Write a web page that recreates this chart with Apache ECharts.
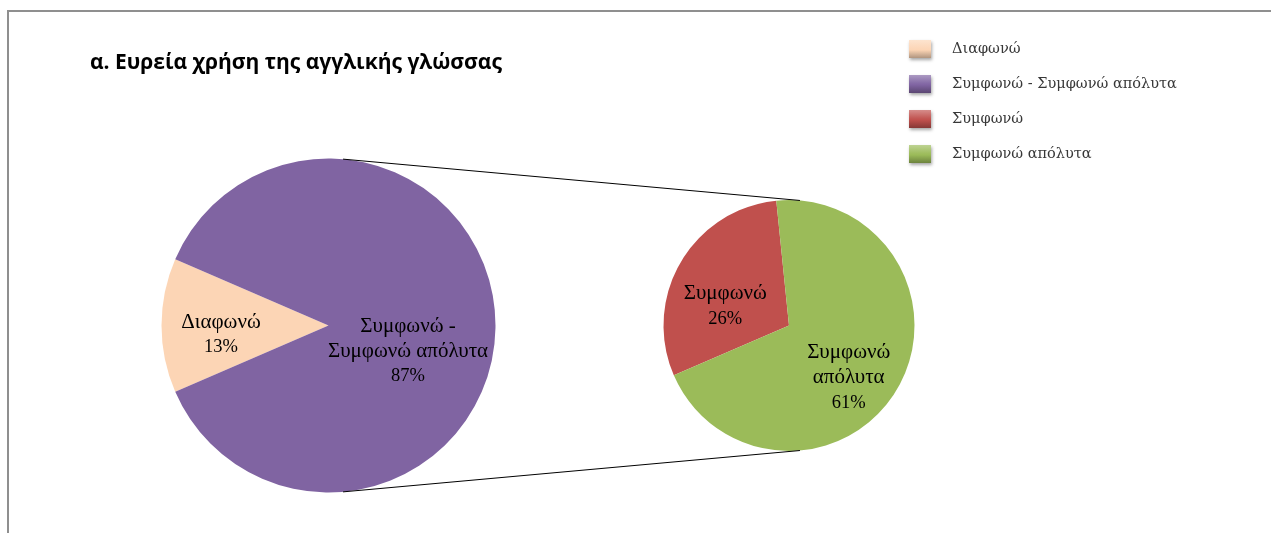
<!DOCTYPE html>
<html>
<head>
<meta charset="utf-8">
<script src="https://cdn.jsdelivr.net/npm/echarts@6/dist/echarts.min.js"></script>
<style>
  html, body { margin: 0; padding: 0; background: #fff; }
  #chart { width: 1271px; height: 533px; }
</style>
</head>
<body>
<div id="chart"></div>
<script>
// Survey answers, percent of all respondents
const titleText = 'α. Ευρεία χρήση της αγγλικής γλώσσας';
const mainCategories = ['Διαφωνώ', 'Συμφωνώ - Συμφωνώ απόλυτα'];
const mainValues = [13, 87];
const mainLabelLines = [['Διαφωνώ'], ['Συμφωνώ -', 'Συμφωνώ απόλυτα']];
const detailCategories = ['Συμφωνώ', 'Συμφωνώ απόλυτα'];
const detailValues = [26, 61];
const detailLabelLines = [['Συμφωνώ'], ['Συμφωνώ', 'απόλυτα']];
const legendOrder = ['Διαφωνώ', 'Συμφωνώ - Συμφωνώ απόλυτα', 'Συμφωνώ', 'Συμφωνώ απόλυτα'];

const colors = {
  'Διαφωνώ': '#FCD5B5',
  'Συμφωνώ - Συμφωνώ απόλυτα': '#8064A2',
  'Συμφωνώ': '#C0504D',
  'Συμφωνώ απόλυτα': '#9BBB59'
};

// pie geometry (pixels)
const mainCenter = [328.5, 325.5], mainRadius = 167;
const detailCenter = [789, 325.5], detailRadius = 125.5;
const startAngle = 203.4;

// label nudges so each text block sits where it reads best in its slice
const mainLabelOffsets = [[-21, 9], [-7, 26]];
const detailLabelOffsets = [[-7, 14], [3, 19]];

function shade(hex, amt) {
  const n = parseInt(hex.slice(1), 16);
  let r = (n >> 16) & 255, g = (n >> 8) & 255, b = n & 255;
  const f = c => Math.max(0, Math.min(255, Math.round(amt >= 0 ? c + (255 - c) * amt : c * (1 + amt))));
  return 'rgb(' + f(r) + ',' + f(g) + ',' + f(b) + ')';
}

function bevel(hex) {
  return new echarts.graphic.LinearGradient(0, 0, 0, 1, [
    { offset: 0, color: shade(hex, 0.35) },
    { offset: 0.45, color: shade(hex, 0.05) },
    { offset: 0.55, color: hex },
    { offset: 1, color: shade(hex, -0.3) }
  ]);
}

const labelStyle = {
  show: true,
  position: 'inside',
  color: '#000',
  align: 'center',
  rich: {
    n: { fontFamily: 'Liberation Serif', fontSize: 21, lineHeight: 25, color: '#000', align: 'center' },
    p: { fontFamily: 'Liberation Serif', fontSize: 18.5, lineHeight: 25, color: '#000', align: 'center' }
  }
};

function buildData(cats, vals, lines, offsets) {
  return cats.map((c, i) => ({
    name: c,
    value: vals[i],
    itemStyle: { color: colors[c] },
    label: {
      offset: offsets[i],
      formatter: lines[i].map(t => '{n|' + t + '}').concat(['{p|' + vals[i] + '%}']).join('\n')
    }
  }));
}

// connector lines between the two pies, at 5° off the vertical
function rimPoint(center, r, deg) {
  const a = deg * Math.PI / 180;
  return [center[0] + r * Math.sin(a), center[1] - r * Math.cos(a)];
}
const connectorAngles = [5, 175];
const connectors = connectorAngles.map(d => {
  const p1 = rimPoint(mainCenter, mainRadius, d);
  const p2 = rimPoint(detailCenter, detailRadius, d);
  return {
    type: 'line',
    shape: { x1: p1[0], y1: p1[1], x2: p2[0], y2: p2[1] },
    style: { stroke: '#000', lineWidth: 1 },
    z: 5
  };
});

const chart = echarts.init(document.getElementById('chart'), null, { renderer: 'canvas' });
chart.setOption({
  backgroundColor: '#fff',
  animation: false,
  title: {
    text: titleText,
    left: 85,
    top: 48,
    textStyle: { fontFamily: 'Open Sans', fontWeight: 'bold', fontSize: 21, color: '#000' }
  },
  legend: {
    orient: 'vertical',
    left: 904,
    top: 35,
    itemWidth: 22,
    itemHeight: 18,
    itemGap: 17,
    icon: 'rect',
    selectedMode: false,
    textStyle: { fontFamily: 'DejaVu Serif', fontSize: 14.5, color: '#383838', padding: [0, 0, 0, 16] },
    data: legendOrder.map(n => ({
      name: n,
      itemStyle: {
        color: bevel(colors[n]),
        shadowBlur: 3,
        shadowColor: 'rgba(0,0,0,0.35)',
        shadowOffsetX: 1,
        shadowOffsetY: 2
      }
    }))
  },
  graphic: [
    {
      type: 'rect',
      shape: { x: 8, y: 11, width: 1400, height: 700 },
      style: { fill: 'none', stroke: '#8f8f8f', lineWidth: 2 },
      z: 0
    }
  ].concat(connectors),
  series: [
    {
      type: 'pie',
      center: mainCenter,
      radius: [0, mainRadius],
      startAngle: startAngle,
      clockwise: true,
      avoidLabelOverlap: false,
      label: labelStyle,
      labelLine: { show: false },
      emphasis: { disabled: true },
      itemStyle: { borderWidth: 0 },
      data: buildData(mainCategories, mainValues, mainLabelLines, mainLabelOffsets)
    },
    {
      type: 'pie',
      center: detailCenter,
      radius: [0, detailRadius],
      startAngle: startAngle,
      clockwise: true,
      avoidLabelOverlap: false,
      label: labelStyle,
      labelLine: { show: false },
      emphasis: { disabled: true },
      itemStyle: { borderWidth: 0 },
      data: buildData(detailCategories, detailValues, detailLabelLines, detailLabelOffsets)
    }
  ]
});
</script>
</body>
</html>
